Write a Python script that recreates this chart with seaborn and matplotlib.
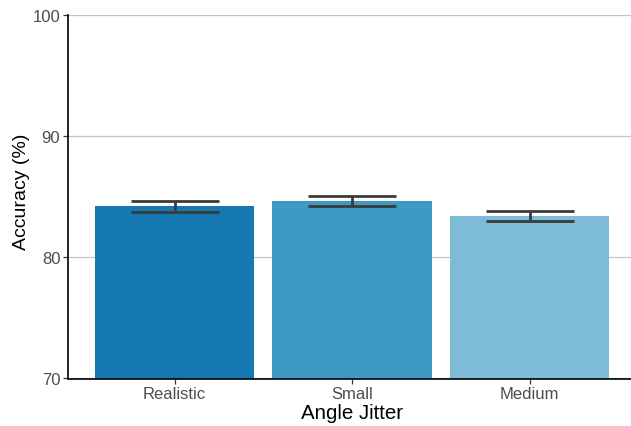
import matplotlib
matplotlib.use("Agg")
import matplotlib.pyplot as plt
import seaborn as sns
import pandas as pd

# Mean accuracy per angle-jitter condition, with standard errors
conditions = ["Realistic", "Small", "Medium"]
accuracy = [84.2, 84.64, 83.41]
std_err = [0.42, 0.40, 0.39]
bar_colors = ["#1379b0", "#3f9ac3", "#7dbbd6"]

df = pd.DataFrame({"Angle Jitter": conditions, "Accuracy": accuracy})

sns.set_theme(style="white")
plt.rcParams["font.family"] = ["Liberation Sans", "DejaVu Sans"]

fig = plt.figure(figsize=(6.31, 4.27), dpi=100)
ax = fig.add_axes([68 / 631, 1 - 379.5 / 427, (636 - 68) / 631, (379.5 - 16) / 427])

sns.barplot(data=df, x="Angle Jitter", y="Accuracy", hue="Angle Jitter",
            palette=bar_colors, errorbar=None, width=0.9, saturation=1,
            legend=False, ax=ax, zorder=2, linewidth=0, edgecolor="none")

ax.errorbar(range(len(conditions)), accuracy, yerr=std_err, fmt="none",
            ecolor="#3b3b3b", elinewidth=2.0, capsize=31.5, capthick=2.0, zorder=3)

ax.set_ylim(70, 100)
ax.set_xlim(-0.6, 2.6)
ax.set_yticks([70, 80, 90, 100])
ax.yaxis.grid(True, color="#c4c4c4", linewidth=0.9, zorder=0)
ax.xaxis.grid(False)
ax.set_axisbelow(True)

for side in ["top", "right"]:
    ax.spines[side].set_visible(False)
for side in ["left", "bottom"]:
    ax.spines[side].set_color("black")
    ax.spines[side].set_linewidth(1.2)

ax.tick_params(axis="both", which="major", length=3.5, width=0.9, color="#333333",
               labelsize=12, labelcolor="#4d4d4d", bottom=True, left=True, pad=2)

ax.set_xlabel("Angle Jitter", fontsize=14.8, color="black", labelpad=1)
ax.set_ylabel("Accuracy (%)", fontsize=14, color="black")
ax.yaxis.set_label_coords(-0.067, 0.516)

fig.savefig("out.png", dpi=100)
